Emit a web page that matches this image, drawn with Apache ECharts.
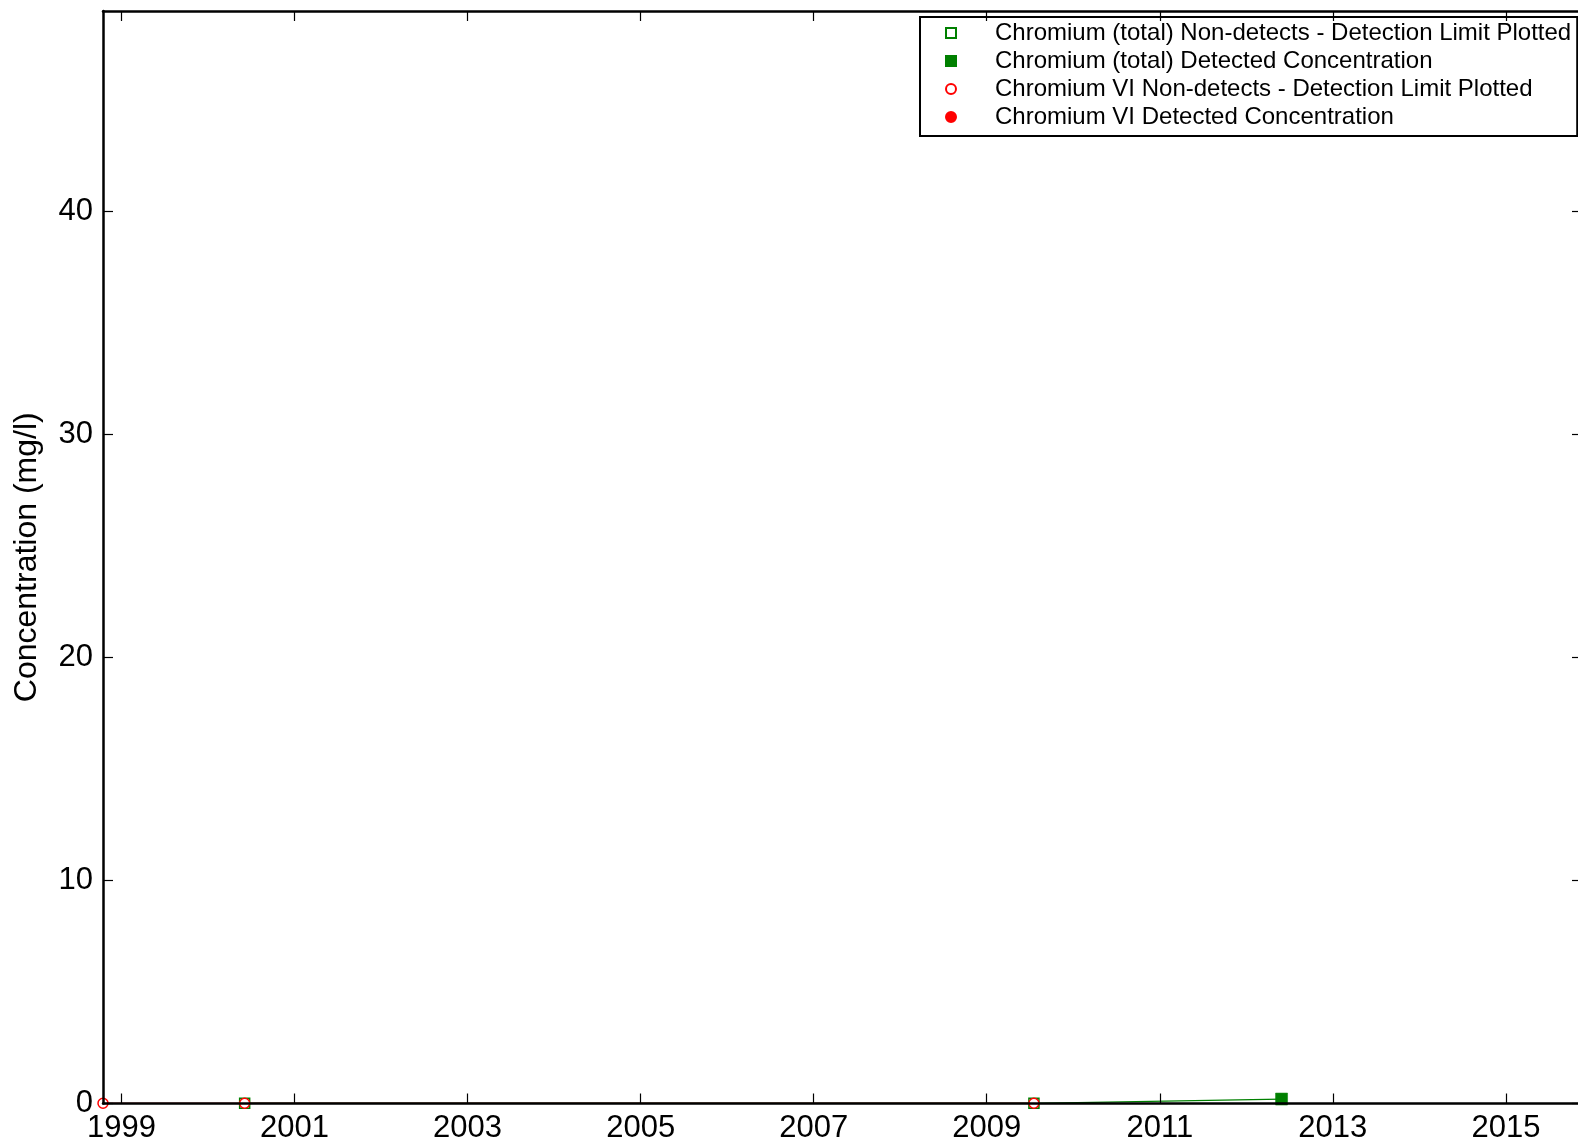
<!DOCTYPE html>
<html>
<head>
<meta charset="utf-8">
<title>Chromium concentration</title>
<script src="https://cdn.jsdelivr.net/npm/echarts@6/dist/echarts.min.js"></script>
<style>
  html, body { margin: 0; padding: 0; background: #ffffff; }
  #chart { width: 1578px; height: 1142px; }
</style>
</head>
<body>
<div id="chart"></div>
<script>
// Sampling dates and results (mg/l)
const crTotalNdDates = ['2000-06-04', '2009-07-19'];
const crTotalNdValues = [0.01, 0.01];
const crTotalDetDates = ['2012-05-29'];
const crTotalDetValues = [0.2];
const cr6NdDates = ['1998-10-15', '2000-06-04', '2009-07-19'];
const cr6NdValues = [0.01, 0.01, 0.01];
const cr6DetDates = [];
const cr6DetValues = [];

// Axis ranges and tick labels
const xRange = ['1998-10-15', '2015-11-18'];
const yearTicks = [1999, 2001, 2003, 2005, 2007, 2009, 2011, 2013, 2015];
const yTicks = [0, 10, 20, 30, 40];
const yMax = 49;

const legendNames = [
  'Chromium (total) Non-detects - Detection Limit Plotted',
  'Chromium (total) Detected Concentration',
  'Chromium VI Non-detects - Detection Limit Plotted',
  'Chromium VI Detected Concentration'
];

const GREEN = '#008000';
const RED = '#ff0000';
const FONT = 'Liberation Sans, Arial, Helvetica, sans-serif';

// Date string -> fractional year, so the x axis is a plain value axis in years
function toYear(s) {
  const [y, m, d] = s.split('-').map(Number);
  const start = Date.UTC(y, 0, 1);
  const end = Date.UTC(y + 1, 0, 1);
  return y + (Date.UTC(y, m - 1, d) - start) / (end - start);
}

const pairs = (dates, values) => dates.map((d, i) => [toYear(d), values[i]]);
const byX = (a, b) => a[0] - b[0];

const crTotalAll = pairs(crTotalNdDates, crTotalNdValues)
  .concat(pairs(crTotalDetDates, crTotalDetValues)).sort(byX);
const cr6All = pairs(cr6NdDates, cr6NdValues)
  .concat(pairs(cr6DetDates, cr6DetValues)).sort(byX);

const xMin = toYear(xRange[0]);
const xMax = toYear(xRange[1]);

const chart = echarts.init(document.getElementById('chart'), null, { renderer: 'canvas' });

const tickInside = () => ({ show: true, inside: true, length: 10, lineStyle: { color: '#000', width: 1.2 } });
const spine = (show) => ({ show: show, onZero: false, lineStyle: { color: '#000', width: 2.5 } });

chart.setOption({
  backgroundColor: '#ffffff',
  animation: false,
  textStyle: { fontFamily: FONT },
  // the frame's right edge sits just past the canvas edge
  grid: {
    left: 103, top: 11, width: 1479, bottom: 38.5,
    containLabel: false, outerBoundsMode: 'none'
  },
  legend: {
    data: legendNames,
    orient: 'vertical',
    left: 920,
    top: 17,
    padding: [2, 6, 5, 25],
    itemGap: 0,
    itemWidth: 10,
    itemHeight: 10,
    borderColor: '#000',
    borderWidth: 2,
    borderRadius: 0,
    backgroundColor: '#ffffff',
    selectedMode: false,
    textStyle: {
      fontFamily: FONT,
      fontSize: 24,
      color: '#000',
      lineHeight: 28,
      padding: [0, 0, 0, 34]
    }
  },
  xAxis: [
    {
      type: 'value',
      min: xMin,
      max: xMax,
      position: 'bottom',
      z: 10,
      splitLine: { show: false },
      axisLine: spine(true),
      axisTick: Object.assign(tickInside(), { customValues: yearTicks }),
      axisLabel: {
        customValues: yearTicks,
        formatter: v => String(Math.round(v)),
        fontSize: 31,
        color: '#000',
        fontFamily: FONT,
        margin: 9,
        hideOverlap: false
      }
    },
    {
      type: 'value',
      min: xMin,
      max: xMax,
      position: 'top',
      z: 10,
      splitLine: { show: false },
      axisLine: spine(true),
      axisTick: Object.assign(tickInside(), { customValues: yearTicks }),
      axisLabel: { show: false }
    }
  ],
  yAxis: [
    {
      type: 'value',
      min: 0,
      max: yMax,
      position: 'left',
      z: 10,
      name: 'Concentration (mg/l)',
      nameLocation: 'middle',
      nameGap: 60,
      nameTextStyle: { fontSize: 32, color: '#000', fontFamily: FONT },
      splitLine: { show: false },
      axisLine: spine(true),
      axisTick: Object.assign(tickInside(), { customValues: yTicks }),
      axisLabel: {
        customValues: yTicks,
        fontSize: 31,
        color: '#000',
        fontFamily: FONT,
        margin: 10
      }
    },
    {
      type: 'value',
      min: 0,
      max: yMax,
      position: 'right',
      z: 10,
      splitLine: { show: false },
      axisLine: spine(true),
      axisTick: Object.assign(tickInside(), { customValues: yTicks }),
      axisLabel: { show: false }
    }
  ],
  series: [
    {
      name: 'Chromium (total) trend',
      type: 'line',
      data: crTotalAll,
      symbol: 'none',
      lineStyle: { color: GREEN, width: 1.2 },
      clip: false,
      z: 2
    },
    {
      name: legendNames[0],
      type: 'scatter',
      data: pairs(crTotalNdDates, crTotalNdValues),
      symbol: 'rect',
      symbolSize: 10,
      itemStyle: { color: '#ffffff', borderColor: GREEN, borderWidth: 1.5, opacity: 1 },
      clip: false,
      z: 3
    },
    {
      name: legendNames[1],
      type: 'scatter',
      data: pairs(crTotalDetDates, crTotalDetValues),
      symbol: 'rect',
      symbolSize: 12,
      itemStyle: { color: GREEN, borderColor: GREEN, borderWidth: 0.5, opacity: 1 },
      clip: false,
      z: 3
    },
    {
      name: 'Chromium VI trend',
      type: 'line',
      data: cr6All,
      symbol: 'none',
      lineStyle: { color: RED, width: 1.2 },
      clip: false,
      z: 4
    },
    {
      name: legendNames[2],
      type: 'scatter',
      data: pairs(cr6NdDates, cr6NdValues),
      symbol: 'circle',
      symbolSize: 10,
      itemStyle: { color: '#ffffff', borderColor: RED, borderWidth: 1.5, opacity: 1 },
      clip: false,
      z: 5
    },
    {
      name: legendNames[3],
      type: 'scatter',
      data: pairs(cr6DetDates, cr6DetValues),
      symbol: 'circle',
      symbolSize: 11,
      itemStyle: { color: RED, borderColor: RED, borderWidth: 0.5, opacity: 1 },
      clip: false,
      z: 5
    }
  ]
});
</script>
</body>
</html>
